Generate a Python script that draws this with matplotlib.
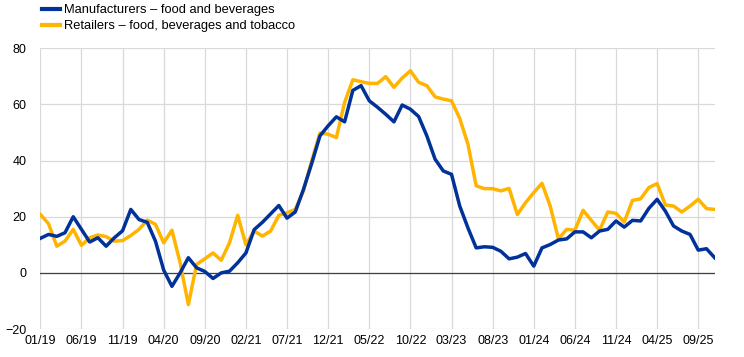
import matplotlib
matplotlib.use("Agg")
import matplotlib.pyplot as plt
from matplotlib.lines import Line2D

plt.rcParams["font.family"] = ["Liberation Sans", "DejaVu Sans"]

BLUE = "#003299"
YELLOW = "#FFB400"

# monthly observations, 01/19 .. 11/25
tick_labels = ["01/19", "06/19", "11/19", "04/20", "09/20", "02/21", "07/21", "12/21",
               "05/22", "10/22", "03/23", "08/23", "01/24", "06/24", "11/24", "04/25", "09/25"]

manufacturers = [
    12.3, 13.7, 13.0, 14.3, 20.0, 15.5, 11.0, 12.5, 9.5, 12.5,
    15.0, 22.6, 19.0, 18.0, 11.3, 1.0, -4.8, 0.0, 5.4, 1.8,
    0.5, -2.0, 0.0, 0.6, 3.6, 7.1, 15.4, 18.0, 21.0, 24.0,
    19.5, 21.7, 29.8, 39.0, 48.8, 52.4, 55.6, 53.8, 65.0, 66.7,
    61.3, 59.0, 56.5, 53.8, 59.8, 58.3, 55.7, 48.8, 40.5, 36.3,
    35.1, 23.8, 16.0, 8.9, 9.3, 9.1, 7.7, 5.0, 5.6, 6.9,
    2.4, 8.9, 10.1, 11.7, 12.1, 14.6, 14.6, 12.5, 14.9, 15.5,
    18.5, 16.3, 18.7, 18.5, 23.0, 26.2, 22.0, 16.7, 14.9, 13.7,
    8.1, 8.6, 5.4,
]

retailers = [
    20.8, 17.5, 9.5, 11.3, 15.5, 9.8, 12.5, 13.5, 12.9, 11.3,
    11.5, 13.3, 15.5, 18.8, 17.3, 10.7, 15.2, 3.6, -11.3, 3.0,
    5.0, 7.1, 4.5, 10.7, 20.5, 10.0, 14.9, 13.1, 14.9, 20.5,
    21.4, 22.6, 29.2, 39.9, 49.8, 49.4, 48.2, 60.7, 68.8, 68.1,
    67.5, 67.5, 69.9, 66.1, 69.4, 72.0, 67.9, 66.7, 62.7, 61.9,
    61.3, 55.0, 45.8, 31.0, 30.0, 30.0, 29.2, 30.1, 20.8, 25.0,
    28.6, 31.9, 23.8, 12.1, 15.5, 15.2, 22.3, 18.7, 15.2, 21.7,
    21.2, 18.1, 25.8, 26.4, 30.4, 31.8, 24.2, 23.8, 21.7, 23.8,
    26.2, 22.9, 22.6,
]

x = list(range(len(manufacturers)))

fig = plt.figure(figsize=(7.44, 3.57), dpi=100)
ax = fig.add_axes([0.0542, 0.0784, 0.9064, 0.7863])

ax.plot(x, manufacturers, color=BLUE, lw=2.5, solid_joinstyle="round", zorder=4)
ax.plot(x, retailers, color=YELLOW, lw=2.5, solid_joinstyle="round", zorder=3)

ax.set_xlim(0, len(x) - 1)
ax.set_ylim(-20, 80)
ax.set_xticks(range(0, len(x), 5))
ax.set_xticklabels(tick_labels)
ax.set_yticks(range(-20, 81, 20))
ax.grid(True, color="#d9d9d9", lw=0.9)
ax.set_axisbelow(True)
ax.axhline(0, color="#404040", lw=0.9, zorder=2)
for s in ax.spines.values():
    s.set_visible(False)
ax.tick_params(length=0, labelsize=9, colors="#000000")
ax.tick_params(axis="y", pad=10)
ax.tick_params(axis="x", pad=4)

handles = [Line2D([], [], color=BLUE, lw=3), Line2D([], [], color=YELLOW, lw=3)]
fig.legend(handles, ["Manufacturers \u2013 food and beverages",
                     "Retailers \u2013 food, beverages and tobacco"],
           loc="upper left", bbox_to_anchor=(0.049, 1.003), frameon=False,
           fontsize=9.3, handlelength=1.4, handletextpad=0.3, labelspacing=0.3,
           borderaxespad=0.0)

fig.savefig("out.png", dpi=100)
